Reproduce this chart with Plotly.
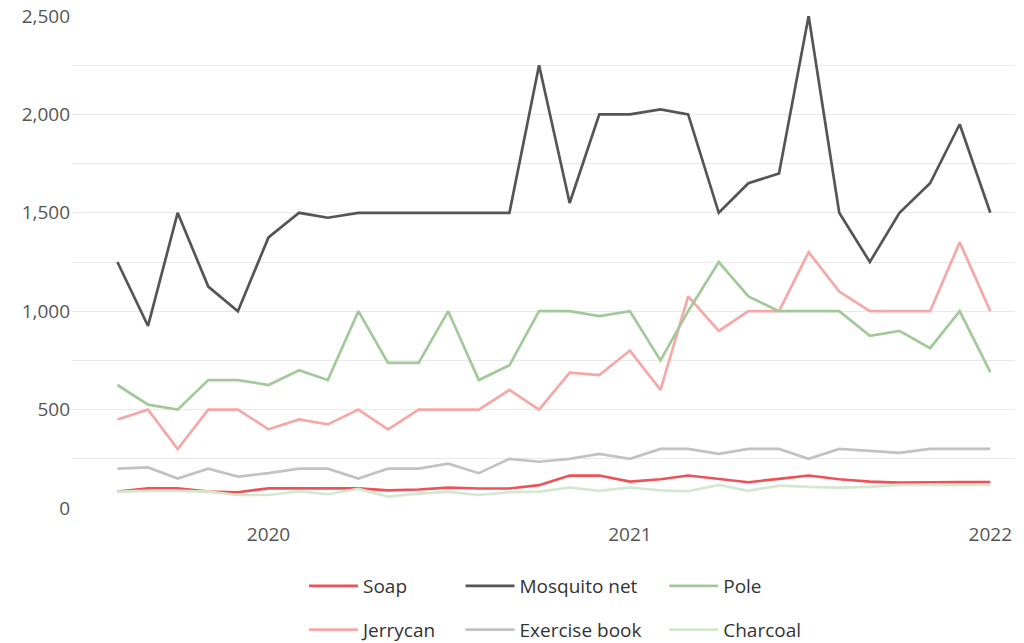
import plotly.graph_objects as go

months = [f"{y}-{m:02d}-01" for y, m in
          [(2019, m) for m in range(8, 13)] + [(2020, m) for m in range(1, 13)] +
          [(2021, m) for m in range(1, 13)] + [(2022, 1)]]

soap = [83, 100, 100, 83, 80, 100, 100, 100, 100, 90, 94, 104, 99, 99, 116,
        165, 165, 134, 146, 165, 148, 131, 148, 165, 146, 134, 129, 131, 131, 131]
jerrycan = [450, 500, 300, 500, 500, 400, 450, 425, 500, 400, 500, 500, 500, 600, 500,
            688, 675, 800, 600, 1075, 900, 1000, 1000, 1300, 1100, 1000, 1000, 1000, 1350, 1000]
mosquito_net = [1250, 925, 1500, 1125, 1000, 1375, 1500, 1475, 1500, 1500, 1500, 1500, 1500, 1500, 2250,
                1550, 2000, 2000, 2025, 2000, 1500, 1650, 1700, 2500, 1500, 1250, 1500, 1650, 1950, 1500]
exercise_book = [200, 206, 150, 200, 160, 177, 200, 200, 150, 200, 200, 225, 177, 250, 235,
                 250, 275, 250, 300, 300, 275, 300, 300, 250, 300, 290, 280, 300, 300, 300]
pole = [625, 525, 500, 650, 650, 625, 700, 650, 1000, 737, 737, 1000, 650, 725, 1000,
        1000, 975, 1000, 750, 1000, 1250, 1075, 1000, 1000, 1000, 875, 900, 812, 1000, 690]
charcoal = [83, 87, 87, 83, 66, 66, 85, 70, 97, 58, 73, 82, 66, 80, 83,
            104, 87, 104, 90, 85, 117, 87, 114, 107, 104, 107, 117, 117, 117, 117]

series = [
    ("Soap", soap, "#ee5157", "legend"),
    ("Jerrycan", jerrycan, "#f6a8a7", "legend"),
    ("Mosquito net", mosquito_net, "#555555", "legend2"),
    ("Exercise book", exercise_book, "#c2c2c2", "legend2"),
    ("Pole", pole, "#a3c99b", "legend3"),
    ("Charcoal", charcoal, "#d4e7cf", "legend3"),
]

y_ticks = list(range(0, 2501, 250))
y_ticktext = [f"{v:,}" if v % 500 == 0 else "" for v in y_ticks]

FONT = "Open Sans"
FS = 19

fig = go.Figure()
for name, vals, color, lg in series:
    fig.add_trace(go.Scatter(x=months, y=vals, name=name, mode="lines",
                             line=dict(color=color, width=2.7),
                             legend=lg, legendgroup=name))

legend_common = dict(orientation="v", traceorder="grouped", tracegroupgap=16,
                     font=dict(family=FONT, size=FS, color="#333333"),
                     bgcolor="rgba(0,0,0,0)", yanchor="top", xanchor="left",
                     yref="container", itemwidth=49)

fig.update_layout(
    width=1024, height=643,
    margin=dict(l=72, r=9, t=16, b=135),
    paper_bgcolor="white", plot_bgcolor="white",
    font=dict(family=FONT, size=FS, color="#555555"),
    showlegend=True,
    legend=dict(x=0.246, y=0.1182, **legend_common),
    legend2=dict(x=0.412, y=0.1182, **legend_common),
    legend3=dict(x=0.628, y=0.1182, **legend_common),
    xaxis=dict(type="date", range=["2019-06-16", "2022-01-26"],
               dtick="M12", tick0="2020-01-01", tickformat="%Y",
               showgrid=False, zeroline=False, showline=False, ticks="",
               ticklabelstandoff=13, automargin=False,
               tickfont=dict(family=FONT, size=FS, color="#555555")),
    yaxis=dict(range=[0, 2500], tickvals=y_ticks, ticktext=y_ticktext,
               showgrid=True, gridcolor="#e9e9e9", gridwidth=1,
               zeroline=False, showline=False, ticks="",
               ticklabelstandoff=1, automargin=False,
               tickfont=dict(family=FONT, size=FS, color="#555555")),
)

fig.write_html("out.html",
               config={"displayModeBar": False},
               post_script="document.body.style.margin='0';"
                           "document.body.style.overflow='hidden';")
